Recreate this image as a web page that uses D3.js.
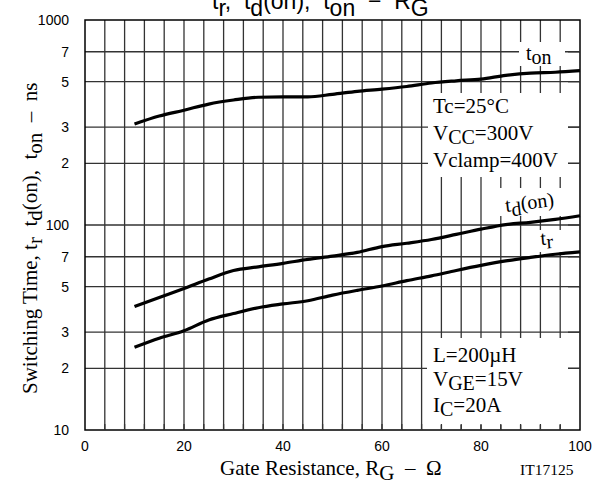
<html>
<head>
<script src="https://d3js.org/d3.v7.min.js"></script>
<style>body{margin:0;background:#fff;} text{white-space:pre;}</style>
</head>
<body>
<script>
// gate resistance (ohm) and switching times (ns)
var gateR = [10, 15, 20, 25, 30, 35, 40, 45, 50, 55, 60, 65, 70, 75, 80, 85, 90, 95, 100];
var tOn   = [311, 340, 363, 389, 407, 420, 422, 422, 434, 449, 460, 474, 493, 505, 515, 537, 551, 556, 566];
var tdOn  = [40, 44.3, 49, 54.5, 60, 62.5, 65, 68, 70.5, 73.5, 78.5, 81.5, 85, 90, 95.5, 100.5, 103, 106.5, 111];
var tR    = [25.3, 28, 30.5, 34.4, 37, 39.5, 41.2, 42.7, 45.5, 48, 50.4, 53.5, 56.5, 60, 63.5, 66.8, 69.5, 72, 74];

var xTicks = [0, 20, 40, 60, 80, 100];
var yTicks = [1000, 700, 500, 300, 200, 100, 70, 50, 30, 20, 10];
var yTickText = ["1000", "7", "5", "3", "2", "100", "7", "5", "3", "2", "10"];
var yGrid = [700, 500, 300, 200, 100, 70, 50, 30, 20];
var xGrid = d3.range(4, 100, 4);

var w = 607, h = 482;
var xScale = d3.scaleLinear().domain([0, 100]).range([85, 580]);
var yScale = d3.scaleLog().domain([10, 1000]).range([430, 20]);

var svg = d3.select("body").append("svg").attr("width", w).attr("height", h);

// grid
svg.append("g").selectAll("line").data(xGrid).enter().append("line")
  .attr("x1", function(d){ return xScale(d); }).attr("x2", function(d){ return xScale(d); })
  .attr("y1", yScale(1000)).attr("y2", yScale(10))
  .attr("stroke", "#333").attr("stroke-width", 1.3);
svg.append("g").selectAll("line").data(yGrid).enter().append("line")
  .attr("x1", xScale(0)).attr("x2", xScale(100))
  .attr("y1", function(d){ return yScale(d); }).attr("y2", function(d){ return yScale(d); })
  .attr("stroke", "#333").attr("stroke-width", 1.3);

// curves
var series = [tOn, tdOn, tR];
var line = d3.line()
  .x(function(d, i){ return xScale(gateR[i]); })
  .y(function(d){ return yScale(d); })
  .curve(d3.curveMonotoneX);
svg.append("g").selectAll("path").data(series).enter().append("path")
  .attr("d", line).attr("fill", "none").attr("stroke", "#000").attr("stroke-width", 3.2);

// white boxes behind labels (mask the grid)
var boxes = [[428, 93, 140, 84], [427, 338, 141, 87], [519, 42, 46, 24], [500, 188, 62, 28], [537, 230, 24, 22]];
svg.append("g").selectAll("rect").data(boxes).enter().append("rect")
  .attr("x", function(d){ return d[0]; }).attr("y", function(d){ return d[1]; })
  .attr("width", function(d){ return d[2]; }).attr("height", function(d){ return d[3]; })
  .attr("fill", "#fff");

// frame
svg.append("rect").attr("x", xScale(0)).attr("y", yScale(1000))
  .attr("width", xScale(100) - xScale(0)).attr("height", yScale(10) - yScale(1000))
  .attr("fill", "none").attr("stroke", "#000").attr("stroke-width", 1.5);

// inner ticks on bottom and right edges
svg.append("g").selectAll("line").data(xGrid).enter().append("line")
  .attr("x1", function(d){ return xScale(d); }).attr("x2", function(d){ return xScale(d); })
  .attr("y1", yScale(10)).attr("y2", yScale(10) - 6).attr("stroke", "#333").attr("stroke-width", 1.3);
svg.append("g").selectAll("line").data(yGrid).enter().append("line")
  .attr("x1", xScale(100)).attr("x2", xScale(100) - 12)
  .attr("y1", function(d){ return yScale(d); }).attr("y2", function(d){ return yScale(d); })
  .attr("stroke", "#333").attr("stroke-width", 1.3);

// tick labels
svg.append("g").selectAll("text").data(yTicks).enter().append("text")
  .attr("x", 69).attr("y", function(d){ return yScale(d) + 5; })
  .attr("text-anchor", "end").attr("font-family", "Liberation Sans, Arial, sans-serif").attr("font-size", 14)
  .text(function(d, i){ return yTickText[i]; });
svg.append("g").selectAll("text").data(xTicks).enter().append("text")
  .attr("x", function(d){ return xScale(d); }).attr("y", 451)
  .attr("text-anchor", "middle").attr("font-family", "Liberation Sans, Arial, sans-serif").attr("font-size", 14)
  .text(function(d){ return d; });

function rich(g, parts, size) {
  var t = g.append("text").attr("font-size", size);
  parts.forEach(function(p){
    t.append("tspan").attr("dy", p[1]).attr("font-size", p[2] || size).text(p[0]);
  });
  return t;
}

var serif = "Liberation Serif, Times New Roman, serif";
var sans = "Liberation Sans, Arial, sans-serif";

// title (cut at the top edge)
var title = svg.append("g").attr("font-family", sans).attr("transform", "translate(212,9)");
rich(title, [["t", 0], ["r", 7], [",  t", -7], ["d", 7], ["(on),  t", -7], ["on", 7], ["  \u2212  R", -7], ["G", 7]], 23);

// x axis title
var xt = svg.append("g").attr("font-family", serif).attr("transform", "translate(220,475)");
rich(xt, [["Gate Resistance, R", 0], ["G", 5], ["  \u2013  \u03A9", -5]], 21);
svg.append("text").attr("x", 520).attr("y", 475).attr("font-family", serif).attr("font-size", 15.5).text("IT17125");

// y axis title
var yt = svg.append("g").attr("font-family", serif).attr("transform", "translate(37,394) rotate(-90)");
rich(yt, [["Switching Time, t", 0], ["r", 5], ["  t", -5], ["d", 5], ["(on),  t", -5], ["on", 5], ["  \u2013  ns", -5]], 21);

// condition notes
var n1 = svg.append("g").attr("font-family", serif).attr("transform", "translate(433,113)");
rich(n1, [["Tc=25\u00B0C", 0]], 21);
var n2 = svg.append("g").attr("font-family", serif).attr("transform", "translate(433,140)");
rich(n2, [["V", 0], ["CC", 4, 20], ["=300V", -4]], 21);
var n3 = svg.append("g").attr("font-family", serif).attr("transform", "translate(433,167)");
rich(n3, [["Vclamp=400V", 0]], 21);

var n4 = svg.append("g").attr("font-family", serif).attr("transform", "translate(433,362)");
rich(n4, [["L=200\u00B5H", 0]], 21);
var n5 = svg.append("g").attr("font-family", serif).attr("transform", "translate(433,386)");
rich(n5, [["V", 0], ["GE", 4, 20], ["=15V", -4]], 21);
var n6 = svg.append("g").attr("font-family", serif).attr("transform", "translate(433,412)");
rich(n6, [["I", 0], ["C", 4, 20], ["=20A", -4]], 21);

// curve labels
var l1 = svg.append("g").attr("font-family", serif).attr("transform", "translate(526,60)");
rich(l1, [["t", 0], ["on", 4]], 20);
var l2 = svg.append("g").attr("font-family", serif).attr("transform", "translate(506,212) rotate(-7)");
rich(l2, [["t", 0], ["d", 5], ["(on)", -5]], 20);
var l3 = svg.append("g").attr("font-family", serif).attr("transform", "translate(541,245) rotate(-5)");
rich(l3, [["t", 0], ["r", 4]], 20);
</script>
</body>
</html>
